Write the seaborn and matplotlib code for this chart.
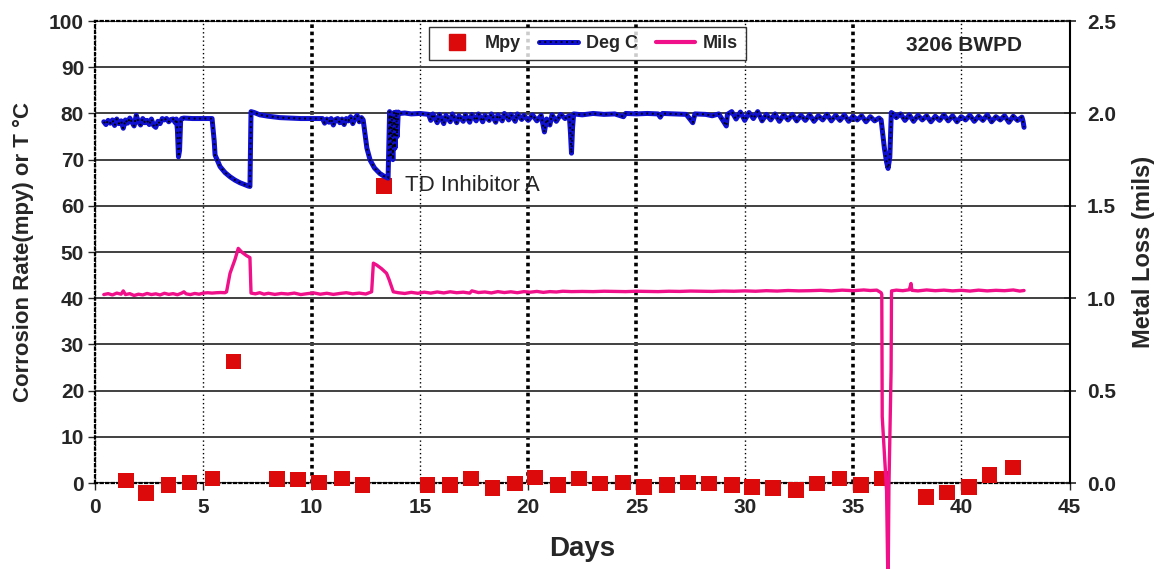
import numpy as np
import pandas as pd
import seaborn as sns
import matplotlib.pyplot as plt
from matplotlib.lines import Line2D
from matplotlib.ticker import MultipleLocator

# ---- data ----
deg_day = [0.40, 0.50, 0.60, 0.70, 0.80, 0.90, 1.00, 1.10, 1.20, 1.30, 1.40, 1.50, 1.60, 1.70,
           1.80, 1.90, 2.00, 2.10, 2.20, 2.30, 2.40, 2.50, 2.60, 2.70, 2.80, 2.90, 3.00, 3.10,
           3.20, 3.30, 3.40, 3.50, 3.60, 3.70, 3.75, 3.80, 3.85, 3.90, 3.95, 4.00, 4.10, 4.50,
           5.00, 5.40, 5.50, 5.54, 5.77, 6.00, 6.23, 6.45, 6.69, 6.90, 7.07, 7.15, 7.20, 7.35,
           7.61, 8.00, 8.53, 9.00, 9.50, 10.00, 10.50, 10.60, 10.70, 10.80, 10.90, 11.00, 11.10,
           11.20, 11.30, 11.40, 11.50, 11.60, 11.70, 11.80, 11.90, 12.00, 12.10, 12.20, 12.30,
           12.38, 12.46, 12.55, 12.70, 12.90, 13.15, 13.35, 13.53, 13.60, 13.65, 13.70, 13.75,
           13.80, 13.85, 13.90, 13.95, 14.00, 14.07, 14.30, 14.60, 15.00, 15.40, 15.50, 15.60,
           15.80, 15.90, 16.10, 16.20, 16.40, 16.50, 16.70, 16.80, 17.00, 17.10, 17.30, 17.40,
           17.60, 17.70, 17.90, 18.00, 18.20, 18.30, 18.50, 18.60, 18.80, 18.90, 19.10, 19.20,
           19.40, 19.50, 19.70, 19.80, 20.00, 20.20, 20.40, 20.60, 20.75, 20.85, 21.00, 21.10,
           21.30, 21.50, 21.70, 21.90, 21.95, 22.00, 22.05, 22.10, 22.50, 23.00, 23.50, 24.00,
           24.40, 24.50, 25.00, 25.50, 26.00, 26.10, 26.20, 26.80, 27.30, 27.60, 27.70, 28.20,
           28.50, 28.80, 29.15, 29.20, 29.40, 29.60, 29.80, 30.00, 30.20, 30.40, 30.60, 30.80,
           31.00, 31.20, 31.40, 31.60, 31.80, 32.00, 32.20, 32.40, 32.60, 32.80, 33.00, 33.20,
           33.40, 33.60, 33.80, 34.00, 34.20, 34.40, 34.60, 34.80, 35.00, 35.20, 35.40, 35.60,
           35.80, 36.00, 36.20, 36.30, 36.45, 36.55, 36.62, 36.70, 36.75, 36.77, 36.90, 37.00,
           37.20, 37.40, 37.60, 37.80, 38.00, 38.20, 38.40, 38.60, 38.80, 39.00, 39.20, 39.40,
           39.60, 39.80, 40.00, 40.20, 40.40, 40.60, 40.80, 41.00, 41.20, 41.40, 41.60, 41.80,
           42.00, 42.20, 42.40, 42.60, 42.80, 42.85, 42.90]
deg_c = [78.2, 77.6, 78.5, 77.9, 78.6, 77.4, 78.8, 77.8, 78.4, 76.8, 78.6, 77.9, 79.0, 78.1,
         77.3, 79.6, 78.2, 77.5, 78.9, 78.0, 78.5, 77.6, 78.8, 77.4, 77.0, 78.3, 77.8, 78.9,
         78.6, 78.9, 78.2, 78.7, 78.8, 78.0, 78.8, 76.5, 70.6, 72.0, 78.5, 78.9, 79.0, 78.9,
         78.9, 78.9, 74.0, 71.0, 68.5, 67.2, 66.3, 65.6, 65.0, 64.6, 64.3, 64.2, 80.4, 80.2,
         79.7, 79.4, 79.1, 79.0, 78.9, 78.9, 78.9, 77.9, 78.8, 78.1, 78.9, 77.5, 78.7,
         78.9, 78.0, 78.8, 77.6, 78.9, 78.4, 79.3, 77.8, 79.0, 79.6, 78.2, 79.1,
         78.6, 75.7, 72.5, 69.9, 68.2, 67.0, 66.4, 66.0, 80.4, 70.5, 79.5, 70.0,
         80.2, 72.5, 80.3, 75.0, 80.3, 80.0, 80.1, 79.9, 80.0, 79.8, 78.5, 79.9,
         78.0, 79.8, 77.8, 79.6, 78.2, 79.9, 78.0, 79.5, 78.3, 79.7, 78.1, 79.8,
         78.4, 79.9, 78.2, 79.6, 78.5, 79.9, 78.1, 79.7, 78.4, 80.0, 78.6, 79.8,
         78.3, 79.9, 78.7, 79.6, 78.5, 79.7, 78.4, 79.6, 76.0, 78.8, 77.5, 79.7,
         78.3, 79.8, 78.9, 79.5, 76.0, 71.4, 77.0, 79.9, 79.7, 80.0, 79.8, 79.9,
         79.3, 80.0, 79.9, 80.0, 79.9, 79.2, 80.0, 79.9, 79.8, 78.0, 79.9, 79.8,
         79.5, 79.9, 77.3, 79.8, 80.4, 78.8, 80.3, 78.5, 80.2, 78.9, 80.4, 78.4,
         79.8, 78.6, 79.9, 78.3, 79.7, 78.6, 79.8, 78.4, 79.6, 78.5, 79.7, 78.3,
         79.5, 78.6, 79.8, 78.4, 79.6, 78.5, 79.7, 78.3, 79.4, 78.6, 79.5, 78.2,
         79.3, 78.4, 79.0, 78.6, 72.5, 69.5, 68.1, 70.5, 77.0, 80.2, 79.8, 79.1,
         79.9, 78.5, 79.7, 78.3, 79.6, 78.6, 79.5, 78.2, 79.4, 78.5, 79.7, 78.4,
         79.5, 78.2, 79.3, 78.6, 79.6, 78.3, 79.4, 78.5, 79.7, 78.2, 79.3, 78.6,
         79.5, 78.1, 79.4, 78.5, 79.2, 78.4, 77.0]

mils_day = [0.40, 0.60, 0.80, 1.00, 1.20, 1.30, 1.40, 1.60, 1.80, 2.00, 2.20, 2.40, 2.60, 2.80,
            3.00, 3.20, 3.40, 3.60, 3.80, 4.00, 4.10, 4.20, 4.40, 4.60, 4.80, 5.00, 5.20, 5.40,
            5.60, 5.80, 6.00, 6.07, 6.23, 6.46, 6.61, 6.77, 7.00, 7.15, 7.20, 7.40, 7.60, 7.80,
            8.00, 8.30, 8.60, 8.90, 9.20, 9.50, 9.80, 10.10, 10.40, 10.70, 11.00, 11.30, 11.60,
            11.90, 12.20, 12.50, 12.77, 12.85, 13.00, 13.23, 13.46, 13.58, 13.77, 14.00, 14.30,
            14.60, 14.90, 15.20, 15.50, 15.80, 16.10, 16.40, 16.70, 17.00, 17.30, 17.40, 17.70,
            18.00, 18.30, 18.60, 18.90, 19.20, 19.50, 19.80, 20.10, 20.40, 20.70, 21.00, 21.30,
            21.60, 22.00, 22.50, 23.00, 23.50, 24.00, 24.50, 25.00, 25.50, 26.00, 26.50, 27.00,
            27.50, 28.00, 28.50, 29.00, 29.50, 30.00, 30.50, 31.00, 31.50, 32.00, 32.50, 33.00,
            33.50, 34.00, 34.50, 35.00, 35.50, 35.80, 36.10, 36.30, 36.33, 36.35, 36.55, 36.62,
            36.66, 36.76, 36.78, 37.00, 37.30, 37.60, 37.68, 37.72, 38.00, 38.40, 38.80, 39.20,
            39.60, 40.00, 40.40, 40.80, 41.20, 41.60, 42.00, 42.40, 42.70, 42.90]
mils = [1.020, 1.025, 1.018, 1.028, 1.022, 1.040, 1.020, 1.025, 1.015, 1.022, 1.018, 1.026, 1.020, 1.024,
        1.018, 1.027, 1.021, 1.025, 1.019, 1.028, 1.035, 1.024, 1.020, 1.026, 1.022, 1.028, 1.030, 1.028,
        1.030, 1.031, 1.030, 1.035, 1.135, 1.210, 1.270, 1.250, 1.230, 1.220, 1.028, 1.024, 1.030, 1.022,
        1.027, 1.021, 1.026, 1.023, 1.028, 1.020, 1.025, 1.029, 1.022, 1.027, 1.021, 1.026, 1.030,
        1.024, 1.028, 1.023, 1.035, 1.190, 1.180, 1.160, 1.135, 1.100, 1.035, 1.030, 1.026,
        1.032, 1.027, 1.033, 1.028, 1.034, 1.029, 1.035, 1.030, 1.033, 1.028, 1.040, 1.031,
        1.034, 1.029, 1.036, 1.031, 1.035, 1.030, 1.036, 1.033, 1.037, 1.032, 1.036, 1.034,
        1.038, 1.036, 1.037, 1.036, 1.038, 1.037, 1.036, 1.038, 1.037, 1.036, 1.038, 1.037,
        1.039, 1.038, 1.037, 1.039, 1.038, 1.040, 1.038, 1.041, 1.039, 1.042, 1.040, 1.041,
        1.043, 1.040, 1.044, 1.041, 1.045, 1.042, 1.044, 1.030, 1.020, 0.360, -0.040, -0.600,
        -0.020, 0.610, 1.040, 1.044, 1.041, 1.046, 1.080, 1.043, 1.040, 1.045, 1.041, 1.044,
        1.040, 1.043, 1.039, 1.044, 1.040, 1.043, 1.041, 1.045, 1.039, 1.042]

mpy_day = [1.42, 2.35, 3.38, 4.35, 5.43, 6.38, 8.41, 9.38, 10.35, 11.41, 12.35, 13.34,
           15.35, 16.40, 17.37, 18.35, 19.40, 20.32, 21.38, 22.35, 23.32, 24.38, 25.35,
           26.41, 27.38, 28.35, 29.41, 30.33, 31.30, 32.38, 33.33, 34.38, 35.38, 36.33,
           38.38, 39.33, 40.35, 41.30, 42.38]
mpy = [0.6, -2.1, -0.4, 0.15, 1.0, 26.3, 0.9, 0.8, 0.15, 1.0, -0.4, 64.3,
       -0.4, -0.4, 1.0, -1.1, -0.1, 1.2, -0.4, 1.0, -0.1, 0.15, -0.9,
       -0.4, 0.15, -0.1, -0.4, -0.9, -1.1, -1.5, -0.1, 1.0, -0.4, 1.0,
       -3.0, -2.0, -0.9, 1.7, 3.4]

thick_grid_days = [10, 20, 25, 35]

df_deg = pd.DataFrame({"Days": deg_day, "Deg C": deg_c})
df_mils = pd.DataFrame({"Days": mils_day, "Mils": mils})
df_mpy = pd.DataFrame({"Days": mpy_day, "Mpy": mpy})

sns.set_style("white")
plt.rcParams['font.family'] = ['Liberation Sans', 'DejaVu Sans']
plt.rcParams['font.weight'] = 'bold'

BLUE = "#1010d0"
PINK = "#f0108a"
RED = "#dc0a0a"

fig = plt.figure(figsize=(11.6, 5.69), dpi=100)
ax = fig.add_axes([0.082, 0.151, 0.840, 0.812])

sns.scatterplot(data=df_mpy, x="Days", y="Mpy", marker="s", s=125, color=RED,
                edgecolor="none", ax=ax, zorder=3, legend=False)
for c in ax.collections:
    c.set_clip_on(False)

sns.lineplot(data=df_deg, x="Days", y="Deg C", color=BLUE, lw=3.6, estimator=None,
             sort=False, ax=ax, zorder=4, legend=False)
ax.plot(deg_day, deg_c, color="black", lw=1.3, ls=(0, (1, 2)), zorder=5)

ax.set_xlim(0, 45)
ax.set_ylim(0, 100)
ax.xaxis.set_major_locator(MultipleLocator(5))
ax.xaxis.set_minor_locator(MultipleLocator(1))
ax.yaxis.set_major_locator(MultipleLocator(10))
ax.tick_params(axis="x", which="major", direction="out", length=5, width=1, pad=6, labelsize=15)
ax.tick_params(axis="x", which="minor", direction="out", length=3, width=1)
ax.tick_params(axis="y", direction="out", length=5, width=1, pad=3, labelsize=15, left=True)
ax.tick_params(axis="x", bottom=True)

# grid
ax.grid(axis="y", color="#404040", lw=1.4, ls="-")
ax.grid(axis="x", color="black", lw=1.0, ls=(0, (1, 2)))
for tick, gl in zip(ax.get_xticks(), ax.get_xgridlines()):
    if tick in thick_grid_days:
        gl.set_linewidth(2.6)
        gl.set_linestyle((0, (1, 1)))
ax.set_axisbelow(True)

for side in ["top", "left", "bottom"]:
    ax.spines[side].set_linestyle((0, (1, 1.5)))
    ax.spines[side].set_linewidth(1.6)
    ax.spines[side].set_color("black")
ax.spines["right"].set_visible(False)

ax.set_xlabel("Days", fontsize=20, fontweight="bold")
ax.xaxis.set_label_coords(0.5, -0.115)
ax.set_ylabel("Corrosion Rate(mpy) or T \u00b0C", fontsize=16, fontweight="bold")
ax.yaxis.set_label_coords(-0.063, 0.5)

ax2 = ax.twinx()
sns.lineplot(data=df_mils, x="Days", y="Mils", color=PINK, lw=2.4, estimator=None,
             sort=False, ax=ax2, legend=False)
for ln in ax2.lines:
    ln.set_clip_on(False)
ax2.set_ylim(0, 2.5)
ax2.yaxis.set_major_locator(MultipleLocator(0.5))
ax2.yaxis.set_major_formatter(plt.FormatStrFormatter("%.1f"))
ax2.tick_params(axis="y", direction="inout", length=9, width=1.2, pad=8, labelsize=15, right=True)
ax2.grid(False)
for side in ["top", "left", "bottom"]:
    ax2.spines[side].set_visible(False)
ax2.spines["right"].set_color("black")
ax2.spines["right"].set_linewidth(1.5)
ax2.set_ylabel("Metal Loss (mils)", fontsize=17, fontweight="bold")
ax2.yaxis.set_label_coords(1.064, 0.5)

ax.annotate("TD Inhibitor A", xy=(13.34, 64.3), xytext=(15, 0), textcoords="offset points",
            va="center", ha="left", fontsize=16, fontweight="normal")
ax2.text(0.892, 0.948, "3206 BWPD", transform=ax2.transAxes, ha="center", va="center",
         fontsize=15, fontweight="bold")

h_mpy = Line2D([], [], ls="none", marker="s", markersize=11, color=RED)
h_blue = Line2D([], [], color=BLUE, lw=3.6)
h_dot = Line2D([], [], color="black", lw=1.3, ls=(0, (1, 2)))
h_mils = Line2D([], [], color=PINK, lw=3)
leg = ax2.legend([h_mpy, (h_blue, h_dot), h_mils], ["Mpy", "Deg C", "Mils"], ncol=3,
                 loc="upper left", bbox_to_anchor=(0.343, 0.987), borderaxespad=0,
                 frameon=True, fancybox=False, handlelength=2.2, columnspacing=1.0,
                 handletextpad=0.4, borderpad=0.45, prop={"weight": "bold", "size": 13})
leg.get_frame().set_edgecolor("black")
leg.get_frame().set_linewidth(1.0)

fig.savefig("out.png", dpi=100)
